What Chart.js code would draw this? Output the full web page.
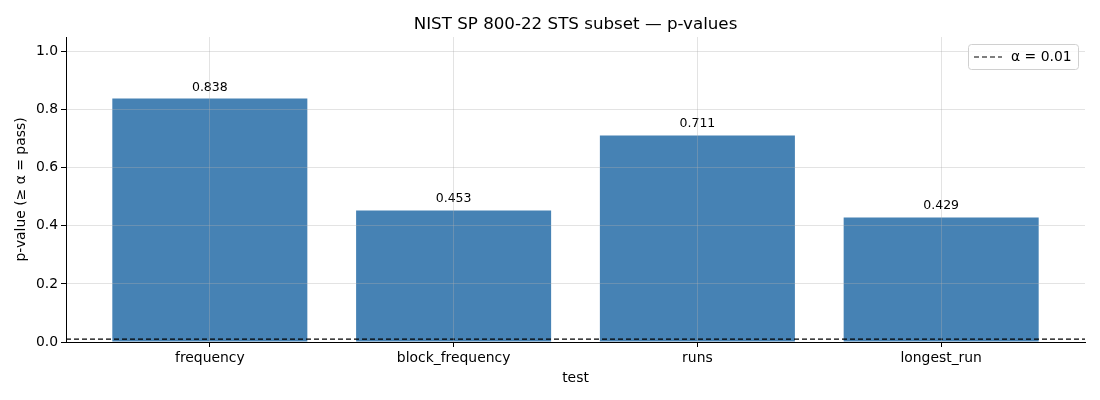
<!DOCTYPE html>
<html>
<head>
<meta charset="utf-8">
<script src="https://cdn.jsdelivr.net/npm/chart.js@4/dist/chart.umd.min.js"></script>
<style>
html,body{margin:0;padding:0;background:#fff;}
#wrap{width:1100px;height:400px;position:relative;}
</style>
</head>
<body>
<div id="wrap"><canvas id="c" width="1100" height="400"></canvas></div>
<script>
const categories = ["frequency", "block_frequency", "runs", "longest_run"];
const pValues = [0.838, 0.453, 0.711, 0.429];
const alphaLevel = 0.01;
const yTicks = [0, 0.2, 0.4, 0.6, 0.8, 1.0];
const titleText = "NIST SP 800-22 STS subset \u2014 p-values";
const xLabel = "test";
const yLabel = "p-value (\u2265 \u03b1 = pass)";
const legendText = "\u03b1 = 0.01";

const FONT = "'DejaVu Sans', sans-serif";
const gridColor = "rgba(176,176,176,0.35)";

const overlay = {
  id: "overlay",
  afterDatasetsDraw(chart) {
    const ctx = chart.ctx;
    const area = chart.chartArea;
    const y = chart.scales.y;
    const yp = y.getPixelForValue(alphaLevel);
    ctx.save();
    ctx.strokeStyle = "#000";
    ctx.lineWidth = 1.2;
    ctx.setLineDash([5, 3]);
    ctx.beginPath();
    ctx.moveTo(area.left, yp);
    ctx.lineTo(area.right, yp);
    ctx.stroke();
    ctx.setLineDash([]);
    const meta = chart.getDatasetMeta(0);
    ctx.fillStyle = "#000";
    ctx.font = "12.5px " + FONT;
    ctx.textAlign = "center";
    ctx.textBaseline = "bottom";
    meta.data.forEach((bar, i) => {
      ctx.fillText(pValues[i].toFixed(3), bar.x, bar.y - 5);
    });
    ctx.restore();
  },
  afterDraw(chart) {
    const ctx = chart.ctx;
    const area = chart.chartArea;
    ctx.save();
    ctx.fillStyle = "#000";
    ctx.font = "16.7px " + FONT;
    ctx.textAlign = "center";
    ctx.textBaseline = "alphabetic";
    ctx.fillText(titleText, (area.left + area.right) / 2, 29);
    const bx = 968.5, by = 44.5, bw = 110, bh = 25;
    ctx.fillStyle = "rgba(255,255,255,0.8)";
    ctx.strokeStyle = "#d0d0d0";
    ctx.lineWidth = 1;
    ctx.beginPath();
    if (ctx.roundRect) ctx.roundRect(bx, by, bw, bh, 3); else ctx.rect(bx, by, bw, bh);
    ctx.fill();
    ctx.stroke();
    ctx.strokeStyle = "#000";
    ctx.lineWidth = 1.2;
    ctx.setLineDash([5, 3]);
    ctx.beginPath();
    ctx.moveTo(974, 57);
    ctx.lineTo(1002, 57);
    ctx.stroke();
    ctx.setLineDash([]);
    ctx.fillStyle = "#000";
    ctx.font = "13.9px " + FONT;
    ctx.textAlign = "left";
    ctx.textBaseline = "middle";
    ctx.fillText(legendText, 1011, 57);
    ctx.restore();
  }
};

new Chart(document.getElementById("c"), {
  type: "bar",
  data: {
    datasets: [{
      data: categories.map((c, i) => ({ x: i, y: pValues[i] })),
      backgroundColor: "#4682B4",
      borderWidth: 0,
      categoryPercentage: 1.0,
      barPercentage: 0.8
    }]
  },
  options: {
    responsive: false,
    animation: false,
    devicePixelRatio: 1,
    layout: { padding: { top: 37, right: 15, left: 0, bottom: 0 } },
    plugins: { legend: { display: false }, tooltip: { enabled: false }, title: { display: false } },
    scales: {
      x: {
        type: "linear",
        offset: false,
        min: -0.59,
        max: 3.59,
        afterBuildTicks(s) { s.ticks = categories.map((c, i) => ({ value: i })); },
        grid: { z: 1, offset: false, color: gridColor, lineWidth: 1, tickColor: "#000", tickLength: 5, drawTicks: true },
        border: { z: 2, display: true, color: "#000", width: 1 },
        ticks: { color: "#000", font: { family: FONT, size: 13.9 }, padding: 3, maxRotation: 0, autoSkip: false,
                 callback: v => categories[Math.round(v)] },
        title: { display: true, text: xLabel, color: "#000", font: { family: FONT, size: 13.9 }, padding: { top: 2, bottom: 13 } },
        afterFit(s) { s.height = 58; }
      },
      y: {
        min: 0,
        max: 1.05,
        afterBuildTicks(s) { s.ticks = yTicks.map(v => ({ value: v })); },
        grid: { z: 1, color: gridColor, lineWidth: 1, tickColor: "#000", tickLength: 5, drawTicks: true },
        border: { z: 2, display: true, color: "#000", width: 1 },
        ticks: { color: "#000", font: { family: FONT, size: 13.9 }, padding: 3, callback: v => Number(v).toFixed(1) },
        title: { display: true, text: yLabel, color: "#000", font: { family: FONT, size: 13.9 }, padding: { top: 13, bottom: 4 } },
        afterFit(s) { s.width = 66; }
      }
    }
  },
  plugins: [overlay]
});
</script>
</body>
</html>
